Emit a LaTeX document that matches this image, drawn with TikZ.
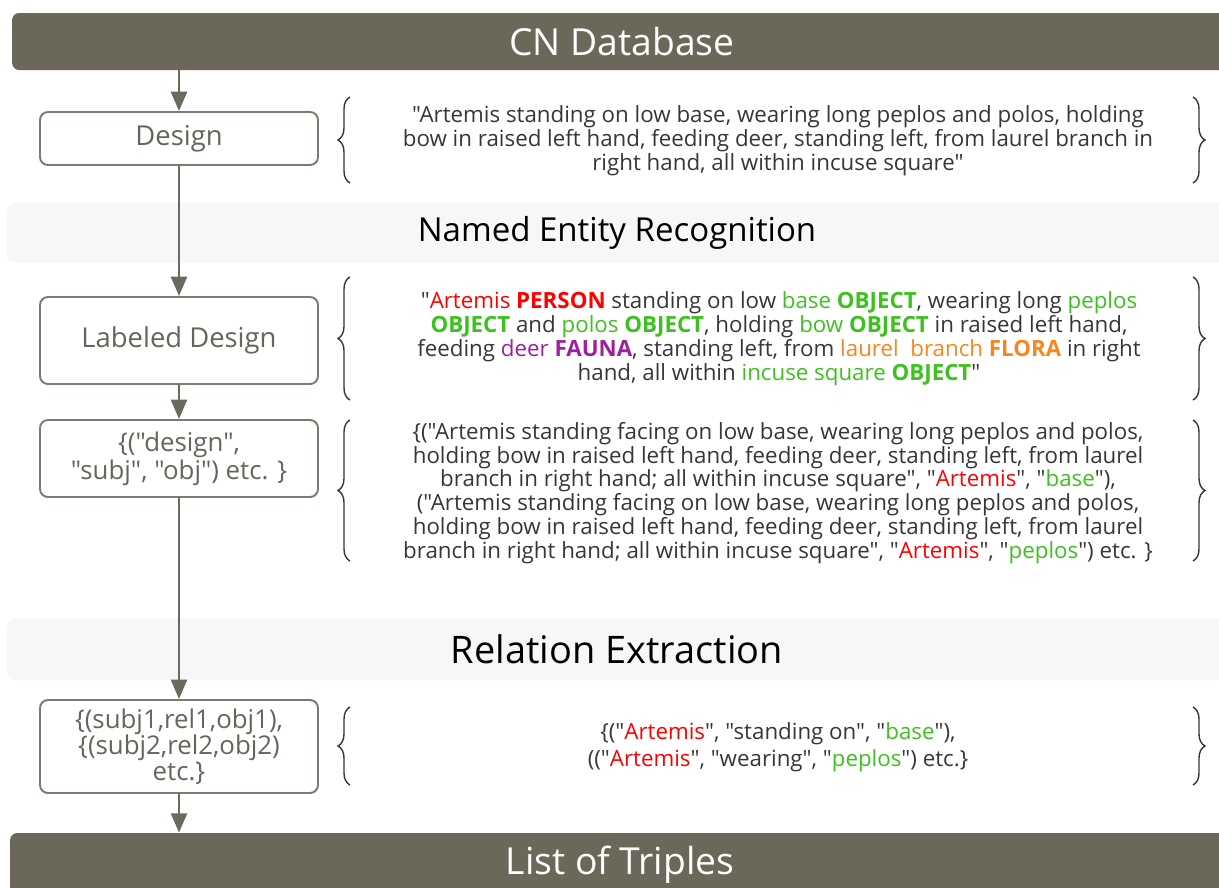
\documentclass[tikz,border=0pt]{standalone}
\usepackage{fontspec}
\setmainfont{Open Sans}[Ligatures=TeXOff]
\usetikzlibrary{arrows.meta,decorations.pathreplacing}
\definecolor{barcol}{HTML}{6B6859}
\definecolor{flowcol}{HTML}{6B6A5C}
\definecolor{boxcol}{HTML}{7D7B70}
\definecolor{boxtext}{HTML}{66655B}
\definecolor{bodytext}{HTML}{363636}
\definecolor{nerred}{HTML}{FF0000}
\definecolor{nergreen}{HTML}{3CC11E}
\definecolor{nerpurple}{HTML}{A01EA0}
\definecolor{nerorange}{HTML}{F7861C}
\newcommand{\pername}[1]{\textcolor{nerred}{#1}}
\newcommand{\pertag}[1]{\textcolor{nerred}{\textbf{#1}}}
\newcommand{\objname}[1]{\textcolor{nergreen}{#1}}
\newcommand{\objtag}[1]{\textcolor{nergreen}{\textbf{#1}}}
\newcommand{\faunaname}[1]{\textcolor{nerpurple}{#1}}
\newcommand{\faunatag}[1]{\textcolor{nerpurple}{\textbf{#1}}}
\newcommand{\floraname}[1]{\textcolor{nerorange}{#1}}
\newcommand{\floratag}[1]{\textcolor{nerorange}{\textbf{#1}}}
\begin{document}
\begin{tikzpicture}[x=0.02cm,y=-0.02cm,
   bar/.style={fill=barcol,text=white,rounded corners=4pt,minimum width=24.4cm,minimum height=1.14cm,font=\fontsize{21.2}{24}\selectfont},
   band/.style={fill=black!3,rounded corners=5pt,minimum width=24.4cm},
   stage/.style={draw=boxcol,line width=1.1pt,rounded corners=4.5pt,fill=white,minimum width=5.56cm,text=boxtext,align=center,inner sep=0pt,font=\fontsize{15.6}{16}\selectfont},
   desc/.style={align=center,text=bodytext,inner sep=0pt,font=\fontsize{12.7}{13.6}\selectfont},
   flow/.style={draw=flowcol,line width=1.7pt,-{Triangle[width=9pt,length=11pt]}},
   curly/.style={draw=bodytext,line width=0.8pt,decorate,decoration={brace,amplitude=0.24cm}}]
\useasboundingbox (0,0) rectangle (1219,887);

% bars and bands
\node (cndb) [bar] at (622,41.5) {CN Database};
\node (ner) [band,minimum height=1.2cm,font=\fontsize{18.8}{22}\selectfont] at (617,233) {Named Entity Recognition};
\node (rel) [band,minimum height=1.24cm,font=\fontsize{21.6}{24}\selectfont] at (617,649) {Relation Extraction};
\node (triples) [bar,minimum height=1.28cm] at (620,865) {List of Triples};

% stages
\node (design) [stage,minimum height=1.06cm] at (179,138.5) {Design};
\node (labeled) [stage,minimum height=1.74cm] at (179,340.5) {Labeled Design};
\node (pairs) [stage,minimum height=1.54cm,font=\fontsize{14.7}{14}\selectfont] at (179,458.5) {\{("design",\\"subj", "obj") etc. \}};
\node (trip) [stage,minimum height=1.86cm,font=\fontsize{14.7}{14.7}\selectfont] at (179,746.5) {\{(subj1,rel1,obj1),\\\{(subj2,rel2,obj2)\\etc.\}};

\draw[flow] (cndb.south -| design.north) -- (design.north);
\draw[flow] (design.south) -- (labeled.north);
\draw[flow] (labeled.south) -- (pairs.north);
\draw[flow] (pairs.south) -- (trip.north);
\draw[flow] (trip.south) -- (trip.south |- triples.north);

% descriptions
\node (text1) [desc] at (778,140.5) {"Artemis standing on low base, wearing long peplos and polos, holding\\
bow in raised left hand, feeding deer, standing left, from laurel branch in\\
right hand, all within incuse square"};
\node (text2) [desc] at (779,338.5) {"\pername{Artemis} \pertag{PERSON} standing on low \objname{base} \objtag{OBJECT}, wearing long \objname{peplos}\\
\objtag{OBJECT} and \objname{polos} \objtag{OBJECT}, holding \objname{bow} \objtag{OBJECT} in raised left hand,\\
feeding \faunaname{deer} \faunatag{FAUNA}, standing left, from \floraname{laurel\ \ branch} \floratag{FLORA} in right\\
hand, all within \objname{incuse square} \objtag{OBJECT}"};
\node (text3) [desc] at (778,493) {\{("Artemis standing facing on low base, wearing long peplos and polos,\\
holding bow in raised left hand, feeding deer, standing left, from laurel\\
branch in right hand; all within incuse square", "\pername{Artemis}", "\objname{base}"),\\
("Artemis standing facing on low base, wearing long peplos and polos,\\
holding bow in raised left hand, feeding deer, standing left, from laurel\\
branch in right hand; all within incuse square", "\pername{Artemis}", "\objname{peplos}") etc. \}};
\node (text4) [desc,font=\fontsize{12.7}{15.3}\selectfont] at (778,747) {\{("\pername{Artemis}", "standing on", "\objname{base}"),\\
(("\pername{Artemis}", "wearing", "\objname{peplos}") etc.\}};

% braces
\draw[curly] (350,183) -- (350,97);
\draw[curly] (1193,97) -- (1193,183);
\draw[curly] (350,400) -- (350,277);
\draw[curly] (1193,277) -- (1193,400);
\draw[curly] (350,561) -- (350,420);
\draw[curly] (1193,420) -- (1193,561);
\draw[curly] (350,785) -- (350,707);
\draw[curly] (1193,707) -- (1193,785);
\end{tikzpicture}
\end{document}
